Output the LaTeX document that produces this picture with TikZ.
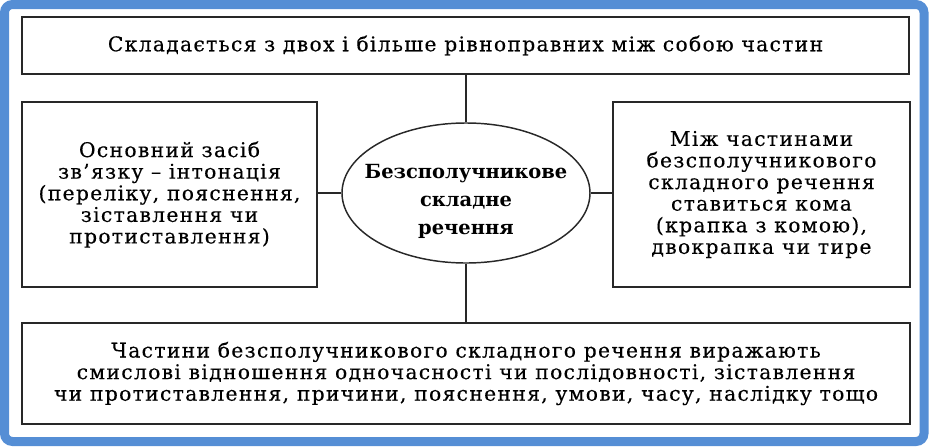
\documentclass[tikz,border=0pt]{standalone}
\usepackage{fontspec}
\setmainfont{DejaVu Serif}
\newfontfamily\spacedfont[LetterSpace=6.5,FakeBold=0.3]{DejaVu Serif}
\usetikzlibrary{shapes.geometric}
\definecolor{frameblue}{RGB}{85,142,213}
\definecolor{inkgray}{RGB}{40,40,40}
\tikzset{
  frame/.style={draw=frameblue, line width=6.75pt, rounded corners=6pt},
  infobox/.style={draw=inkgray, line width=1.1pt, fill=white, align=center,
    inner sep=0pt, text=black, font=\spacedfont\fontsize{15.2}{16.2}\selectfont},
  core/.style={draw=inkgray, line width=1.1pt, ellipse, fill=white, align=center,
    inner xsep=-14pt, inner ysep=0pt, minimum width=186pt, minimum height=105pt,
    text height=66pt, text=black, font=\bfseries\fontsize{14.6}{21}\selectfont},
  link/.style={draw=inkgray, line width=1.1pt}
}

\begin{document}
\begin{tikzpicture}[x=0.75pt,y=-0.75pt]
\useasboundingbox (0,0) rectangle (929,447);

% ------------------------------------------------------------------
% frame
% ------------------------------------------------------------------
\draw[frame] (4.5,4.5) rectangle (924,441.5);

% ------------------------------------------------------------------
% boxes round the centre
% ------------------------------------------------------------------
\node[core] (centre) at (466,193)
  {Безсполучникове\\складне\\речення};

\node[infobox, minimum width=665pt, minimum height=42.75pt] (parts) at (465.5,45.5)
  {Складається з двох і більше рівноправних між собою частин};
\node[infobox, minimum width=221.25pt, minimum height=138.75pt] (means) at (169.5,194.5)
  {Основний засіб\\зв’язку – інтонація\\(переліку, пояснення,\\зіставлення чи\\протиставлення)};
\node[infobox, minimum width=222.75pt, minimum height=138.75pt] (marks) at (761.5,194.5)
  {Між частинами\\безсполучникового\\складного речення\\ставиться кома\\(крапка з комою),\\двокрапка чи тире};
\node[infobox, minimum width=666pt, minimum height=75.75pt] (meaning) at (466,373.5)
  {Частини безсполучникового складного речення виражають\\смислові відношення одночасності чи послідовності, зіставлення\\чи протиставлення, причини, пояснення, умови, часу, наслідку тощо};

\draw[link] (centre.north) -- (centre.north |- parts.south);
\draw[link] (centre.south) -- (centre.south |- meaning.north);
\draw[link] (centre.west) -- (centre.west -| means.east);
\draw[link] (centre.east) -- (centre.east -| marks.west);

\end{tikzpicture}
\end{document}
